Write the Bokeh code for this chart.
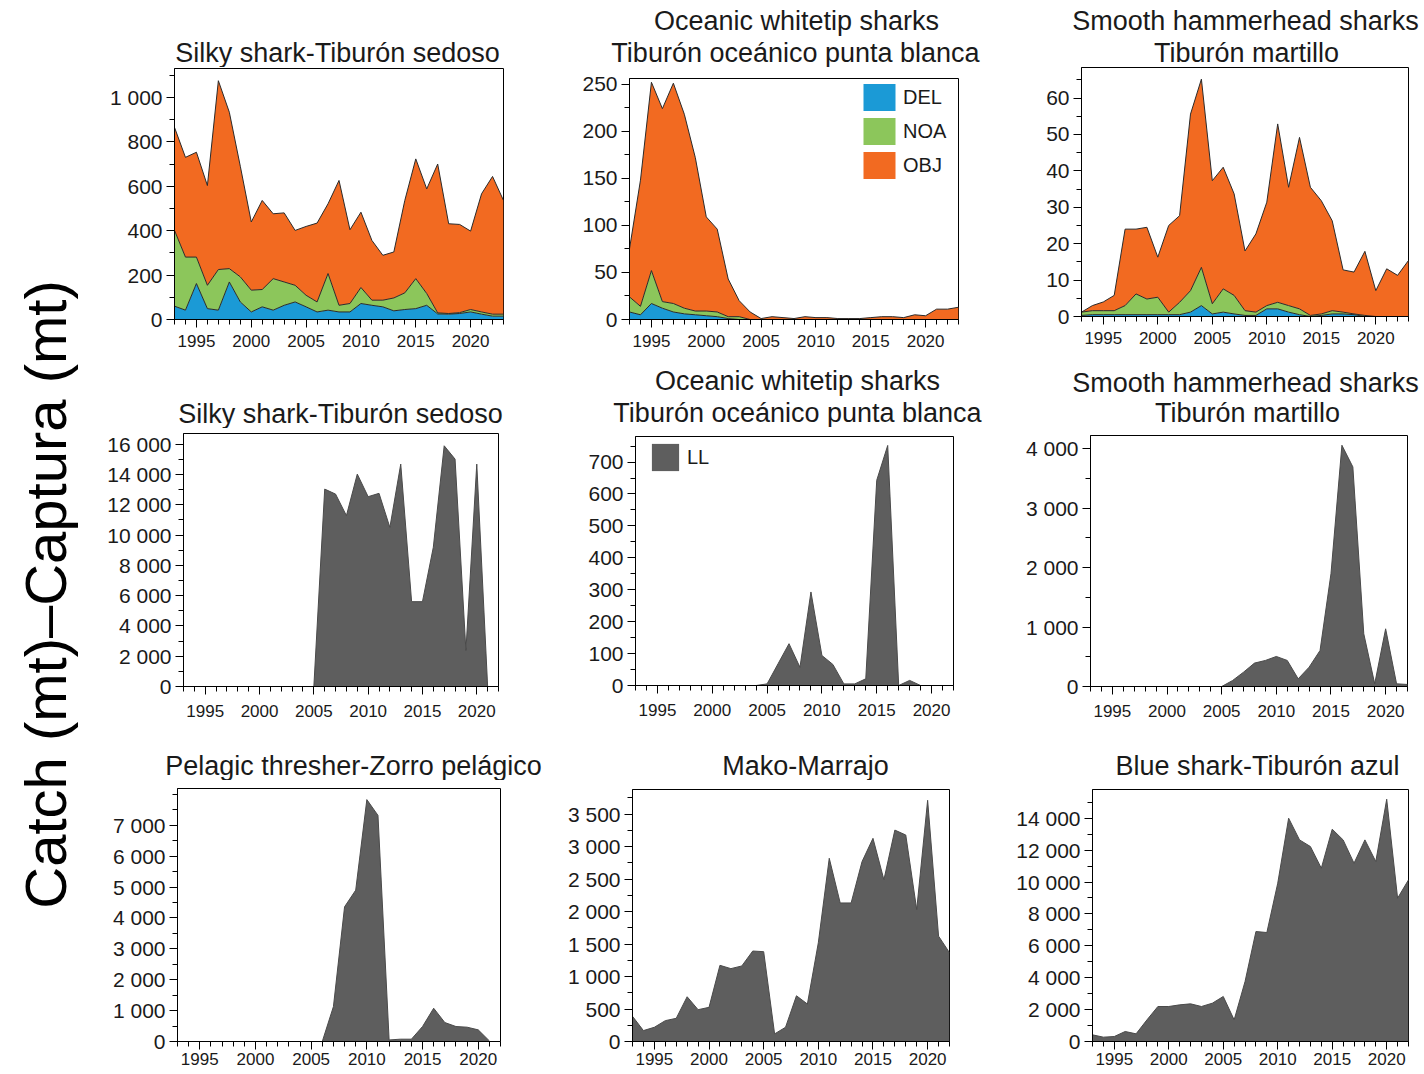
import numpy as np
from bokeh.plotting import figure
from bokeh.models import ColumnDataSource, Range1d, FixedTicker, Legend, LegendItem
from bokeh.layouts import row, column
from bokeh.embed import file_html
from bokeh.resources import INLINE
from bokeh.core.properties import value

FONT = "Liberation Sans"

# ---------------- data ----------------
years_ps = list(range(1993, 2024))
years_ll = list(range(1993, 2023))

# Purse-seine catches by set type (stacked: DEL, NOA, OBJ)
silky_del = [60, 42, 162, 49, 42, 169, 79, 34, 57, 42, 64, 79, 57, 34, 42, 34, 34, 72, 64, 57, 39, 45, 49, 64, 25, 24, 27, 34, 24, 15, 15]
silky_noa = [341, 239, 119, 105, 183, 60, 113, 98, 78, 142, 105, 75, 52, 45, 165, 30, 38, 72, 23, 30, 58, 75, 135, 53, 5, 3, 4, 11, 10, 9, 9]
silky_obj = [464, 449, 472, 449, 850, 704, 498, 307, 401, 292, 311, 247, 310, 355, 314, 562, 332, 339, 269, 202, 207, 416, 539, 471, 670, 404, 397, 353, 532, 620, 512]

ocw_del = [8, 5, 17, 12, 8, 6, 5, 4, 3, 1, 0, 0, 0, 0, 0, 0, 0, 0, 0, 0, 0, 0, 0, 0, 0, 0, 0, 0, 0, 0, 0]
ocw_noa = [16, 9, 35, 7, 9, 6, 4, 5, 5, 2, 3, 0, 0, 0, 0, 0, 0, 0, 0, 0, 0, 0, 0, 0, 0, 0, 0, 0, 0, 0, 0]
ocw_obj = [51, 134, 200, 205, 234, 206, 163, 100, 88, 40, 17, 8, 1, 3, 2, 1, 3, 2, 2, 1, 1, 1, 2, 3, 3, 2, 5, 4, 11, 11, 13]

hh_del = [0.3, 0.5, 0.5, 0.5, 0.5, 0.5, 0.5, 0.5, 0.5, 0.5, 1.2, 3.0, 0.7, 1.2, 0.7, 0.3, 0.3, 2.1, 2.1, 1.2, 0.5, 0.0, 0.3, 0.7, 0.7, 0.5, 0.0, 0.0, 0.0, 0.0, 0.0]
hh_noa = [0.9, 1.1, 1.1, 1.1, 2.5, 5.7, 4.3, 4.8, 0.7, 3.4, 5.9, 10.5, 2.8, 6.4, 5.1, 1.3, 0.9, 0.9, 1.8, 1.8, 1.6, 0.3, 0.4, 0.9, 0.5, 0.2, 0.3, 0.0, 0.0, 0.0, 0.0]
hh_obj = [0.0, 1.4, 2.4, 4.2, 21.0, 17.8, 19.7, 11.0, 23.8, 23.8, 48.5, 51.7, 33.8, 33.4, 27.9, 16.4, 21.5, 28.4, 49.0, 32.5, 47.1, 35.2, 31.1, 24.7, 11.6, 11.5, 17.6, 7.1, 13.1, 11.3, 15.4]

# Longline catches (LL)
silky_ll = [0, 0, 0, 0, 0, 0, 0, 0, 0, 0, 0, 0, 0, 13030, 12700, 11280, 14020, 12530, 12750, 10500, 14680, 5600, 5600, 9190, 15890, 15010, 2380, 14680, 0]
ocw_ll = [0, 0, 0, 0, 0, 0, 0, 0, 0, 0, 0, 0, 5, 68, 131, 57, 293, 94, 66, 5, 5, 21, 643, 752, 0, 16, 0, 0, 0, 0]
hh_ll = [0, 0, 0, 0, 0, 0, 0, 0, 0, 0, 0, 0, 0, 101, 241, 393, 438, 505, 438, 129, 325, 606, 1896, 4056, 3692, 886, 45, 970, 45, 34]
thresher_ll = [0, 0, 0, 0, 0, 0, 0, 0, 0, 0, 0, 0, 0, 0, 1130, 4360, 4900, 7830, 7320, 50, 75, 75, 485, 1077, 614, 485, 463, 377, 20]
mako_ll = [388, 168, 219, 321, 357, 689, 490, 526, 1173, 1122, 1163, 1393, 1383, 117, 219, 704, 577, 1520, 2821, 2133, 2133, 2770, 3128, 2490, 3255, 3179, 2031, 3714, 1622, 1367]
blue_ll = [418, 272, 313, 627, 481, 1358, 2194, 2194, 2298, 2361, 2194, 2403, 2821, 1358, 3761, 6895, 6832, 9925, 14000, 12641, 12223, 10865, 13310, 12641, 11178, 12641, 11283, 15190, 8985, 10134]

set_types = ["DEL", "NOA", "OBJ"]
set_colors = ["#1b9ad6", "#8cc65b", "#f26a21"]
ll_color = "#5e5e5e"

x_major = [1995, 2000, 2005, 2010, 2015, 2020]

T_ocw = ["Oceanic whitetip sharks", "Tiburón oceánico punta blanca"]
T_hh = ["Smooth hammerhead sharks", "Tiburón martillo"]
T_silky = ["Silky shark-Tiburón sedoso"]
y_label = "Catch (mt)\u2013Captura (mt)"

TXT = "#1a1a1a"

# ---------------- layout (page pixels) ----------------
COLS = [(90, 470), (560, 440), (1000, 422)]      # (x0, width) of each figure column
ROWS = [(0, 354), (354, 374), (728, 344)]        # (y0, height) of each figure row
X_STANDOFF = [7, 10, 3]                          # x tick-label standoff per row


def fmt(v):
    return f"{int(v):,}".replace(",", " ")


def title_strip(ci, ri, frame, titles, title_pos):
    """A small axis-less figure (1 data unit = 1 px) holding the panel title lines."""
    x0, w = COLS[ci]
    y0, h = ROWS[ri]
    th = min(max(cy for cx, cy in title_pos) - y0 + 15, frame[1] - y0)
    t = figure(width=w, height=th, output_backend="svg", toolbar_location=None,
               x_range=Range1d(0, w), y_range=Range1d(0, th),
               min_border_left=0, min_border_right=0, min_border_top=0, min_border_bottom=0,
               x_axis_location=None, y_axis_location=None, title=None)
    t.outline_line_color = None
    t.xgrid.visible = False
    t.ygrid.visible = False
    t.background_fill_color = "white"
    t.border_fill_color = "white"
    t.text(x=[cx - x0 for cx, cy in title_pos], y=[th - (cy - y0) for cx, cy in title_pos],
           text=titles, text_align="center", text_baseline="middle",
           text_font=value(FONT), text_font_size="27px", text_color=TXT)
    return t, th


def base_fig(ci, ri, frame, x_end, y_end, y_step, y_minor_step, titles, title_pos, y_label_max=None):
    x0, w = COLS[ci]
    y0, h = ROWS[ri]
    fl, ft, fr, fb = frame
    tfig, th = title_strip(ci, ri, frame, titles, title_pos)
    p = figure(width=w, height=h - th, output_backend="svg", toolbar_location=None,
               x_range=Range1d(1993, x_end), y_range=Range1d(0, y_end),
               min_border_left=fl - x0, min_border_right=x0 + w - fr,
               min_border_top=ft - y0 - th, min_border_bottom=y0 + h - fb,
               title=None)
    p.background_fill_color = "white"
    p.border_fill_color = "white"
    p.outline_line_color = "black"
    p.outline_line_width = 1
    p.xgrid.visible = False
    p.ygrid.visible = False
    top = y_end if y_label_max is None else y_label_max
    yt = list(np.arange(0, top + 1e-9, y_step))
    ym = list(np.arange(0, y_end + 1e-9, y_minor_step))
    p.xaxis.ticker = FixedTicker(ticks=x_major, minor_ticks=list(range(1993, int(x_end) + 1)))
    p.yaxis.ticker = FixedTicker(ticks=yt, minor_ticks=ym)
    p.yaxis.major_label_overrides = {float(t): fmt(t) for t in yt}
    for ax in (p.xaxis[0], p.yaxis[0]):
        ax.axis_line_color = "black"
        ax.major_tick_line_color = "black"
        ax.minor_tick_line_color = "black"
        ax.major_tick_in = 0
        ax.minor_tick_in = 0
        ax.major_tick_out = 8
        ax.minor_tick_out = 5
        ax.major_label_text_font = FONT
        ax.major_label_text_color = TXT
    p.xaxis.major_label_text_font_size = "17px"
    p.xaxis.major_label_standoff = X_STANDOFF[ri]
    p.yaxis.major_label_text_font_size = "21px"
    p.yaxis.major_label_standoff = 4
    return p, tfig


def ps_fig(ci, ri, frame, dele, noa, obj, y_end, y_step, y_minor, titles, title_pos, legend_loc=None):
    p, tfig = base_fig(ci, ri, frame, 2023, y_end, y_step, y_minor, titles, title_pos)
    src = ColumnDataSource(dict(year=years_ps, DEL=dele, NOA=noa, OBJ=obj))
    rs = p.varea_stack(stackers=set_types, x="year", color=set_colors, source=src)
    p.vline_stack(stackers=set_types, x="year", color="#2a2a2a", line_width=1, source=src)
    if legend_loc is not None:
        leg = Legend(items=[LegendItem(label=n, renderers=[r]) for n, r in zip(set_types, rs)],
                     location=legend_loc, glyph_width=40, glyph_height=34, spacing=0, padding=2,
                     label_standoff=4, label_text_font=FONT, label_text_font_size="20px",
                     label_text_color=TXT, border_line_alpha=0, background_fill_alpha=0)
        p.add_layout(leg)
    return column(column(tfig), p)


def ll_fig(ci, ri, frame, vals, y_end, y_step, y_minor, titles, title_pos, legend_loc=None,
           y_label_max=None):
    p, tfig = base_fig(ci, ri, frame, 2022, y_end, y_step, y_minor, titles, title_pos, y_label_max)
    src = ColumnDataSource(dict(year=years_ll[:len(vals)], LL=vals))
    r = p.varea(x="year", y1=0, y2="LL", color=ll_color, source=src)
    p.line(x="year", y="LL", color="#4a4a4a", line_width=1, source=src)
    if legend_loc is not None:
        leg = Legend(items=[LegendItem(label="LL", renderers=[r])],
                     location=legend_loc, glyph_width=34, glyph_height=34, padding=3,
                     label_standoff=5, label_text_font=FONT, label_text_font_size="20px",
                     label_text_color=TXT, border_line_alpha=0, background_fill_alpha=0)
        p.add_layout(leg)
    return column(column(tfig), p)


c1 = ps_fig(0, 0, (174, 68, 503, 319), silky_del, silky_noa, silky_obj, 1130, 200, 100,
            T_silky, [(337, 52)])
c2 = ps_fig(1, 0, (629, 78, 958, 319), ocw_del, ocw_noa, ocw_obj, 256, 50, 25,
            T_ocw, [(796, 20), (795, 52)], legend_loc=(228, 135))
c3 = ps_fig(2, 0, (1081, 67, 1408, 316), hh_del, hh_noa, hh_obj, 68.4, 10, 5,
            T_hh, [(1245, 20), (1246, 52)])

c4 = ll_fig(0, 1, (183, 433, 498, 686), silky_ll, 16700, 2000, 1000, T_silky, [(340, 413)])
c5 = ll_fig(1, 1, (635, 436, 953, 685), ocw_ll, 780, 100, 50, T_ocw, [(797, 380), (797, 412)],
            legend_loc=(10, 208))
c6 = ll_fig(2, 1, (1090, 435, 1407, 686), hh_ll, 4220, 1000, 500, T_hh, [(1245, 382), (1247, 412)])

c7 = ll_fig(0, 2, (177, 788, 500, 1041), thresher_ll, 8190, 1000, 500,
            ["Pelagic thresher-Zorro pelágico"], [(353, 765)], y_label_max=7000)
c8 = ll_fig(1, 2, (632, 789, 949, 1041), mako_ll, 3880, 500, 250, ["Mako-Marrajo"], [(805, 765)])
c9 = ll_fig(2, 2, (1092, 789, 1408, 1041), blue_ll, 15800, 2000, 1000,
            ["Blue shark-Tiburón azul"], [(1257, 765)])

# big shared y label
lab = figure(width=90, height=1072, output_backend="svg", toolbar_location=None,
             x_range=Range1d(0, 1), y_range=Range1d(0, 1),
             min_border_left=0, min_border_right=0, min_border_top=116, min_border_bottom=0,
             x_axis_location=None, y_axis_location=None, title=None)
lab.outline_line_color = None
lab.xgrid.visible = False
lab.ygrid.visible = False
lab.text(x=[0.5], y=[0.5], text=[y_label], angle=np.pi / 2,
         text_align="center", text_baseline="middle", text_font=value(FONT),
         text_font_size="58px", text_color="black")

grid = column(row(c1, c2, c3), row(c4, c5, c6), row(c7, c8, c9))
layout = row(lab, grid)

open("out.html", "w").write(file_html(layout, INLINE))
